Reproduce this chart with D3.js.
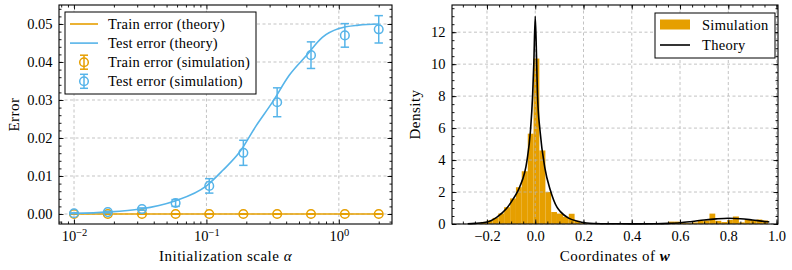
<!DOCTYPE html>
<html>
<head>
<meta charset="utf-8">
<script src="https://cdn.jsdelivr.net/npm/d3@7"></script>
<style>
  body { margin: 0; background: #fff; }
  svg text { font-family: "Liberation Serif", "Times New Roman", serif; font-size: 14.5px; fill: #000; }
  svg text.axlab { font-size: 15px; letter-spacing: 0.5px; }
</style>
</head>
<body>
<svg id="chart" width="792" height="270"></svg>
<script>
// ---------- left panel: error vs initialization scale ----------
const alphaSim = [0.01, 0.018, 0.0326, 0.0585, 0.105, 0.19, 0.342, 0.616, 1.11, 2.0];
const testSimMean = [0.0002, 0.0005, 0.0013, 0.0029, 0.0074, 0.0161, 0.0294, 0.0418, 0.0470, 0.0486];
const testSimErr = [0.0001, 0.0002, 0.0003, 0.0009, 0.0019, 0.0033, 0.0038, 0.0035, 0.0031, 0.0036];
const trainSimMean = [0, 0, 0, 0, 0, 0, 0, 0, 0, 0];
const trainSimErr = [0, 0, 0, 0, 0, 0, 0, 0, 0, 0];

const alphaTheory = [0.01, 0.0178, 0.0316, 0.0562, 0.1, 0.133, 0.178, 0.237, 0.316, 0.422, 0.562, 0.75, 1.0, 1.41, 2.0];
const testTheory = [0.0002, 0.0005, 0.0013, 0.0033, 0.0074, 0.0115, 0.0163, 0.0232, 0.0295, 0.0365, 0.0415, 0.0465, 0.0488, 0.0497, 0.0500];
const trainTheory = [0, 0, 0, 0, 0, 0, 0, 0, 0, 0, 0, 0, 0, 0, 0];

const leftYTicks = [0, 0.01, 0.02, 0.03, 0.04, 0.05];
const leftXTicks = [0.01, 0.1, 1];

// ---------- right panel: histogram of coordinates of w ----------
const binEdges = [-0.274, -0.250, -0.226, -0.201, -0.177, -0.153, -0.129, -0.104, -0.080, -0.056,
  -0.031, -0.007, 0.017, 0.042, 0.066, 0.090, 0.115, 0.139, 0.163, 0.187,
  0.212, 0.236, 0.260, 0.285, 0.309, 0.333, 0.358, 0.382, 0.406, 0.430,
  0.455, 0.479, 0.503, 0.528, 0.552, 0.576, 0.601, 0.625, 0.649, 0.673,
  0.698, 0.722, 0.746, 0.771, 0.795, 0.819, 0.844, 0.868, 0.892, 0.917,
  0.941, 0.965];
const binDensity = [0.03, 0.05, 0.13, 0.22, 0.38, 0.66, 1.05, 1.6, 2.3, 3.3,
  5.65, 10.35, 4.6, 2.0, 0.75, 0.65, 0.45, 0.64, 0.2, 0.05,
  0.02, 0, 0.02, 0, 0, 0.02, 0, 0.03, 0.02, 0.02,
  0, 0.02, 0, 0.02, 0.15, 0.15, 0.08, 0.05, 0.1, 0.2,
  0.22, 0.65, 0.2, 0.12, 0.25, 0.47, 0.1, 0.25, 0.25, 0.28,
  0.22];

const wTheory = [-0.28, -0.25, -0.2, -0.16, -0.12, -0.09, -0.065, -0.034, -0.02, -0.011, -0.006, 0,
  0.006, 0.0095, 0.02, 0.04, 0.062, 0.09, 0.103, 0.138, 0.179, 0.213, 0.25, 0.3, 0.4,
  0.5, 0.55, 0.6, 0.65, 0.7, 0.75, 0.8, 0.85, 0.9, 0.95, 0.97];
const densTheory = [0.02, 0.04, 0.12, 0.42, 0.95, 1.6, 2.3, 4.0, 5.8, 8.0, 10.0, 13.0,
  10.0, 8.0, 5.8, 3.5, 2.14, 1.05, 0.79, 0.37, 0.16, 0.06, 0.03, 0.015, 0.01,
  0.02, 0.04, 0.08, 0.16, 0.25, 0.32, 0.36, 0.33, 0.25, 0.16, 0.13];

const rightXTicks = [-0.2, 0, 0.2, 0.4, 0.6, 0.8, 1.0];
const rightYTicks = [0, 2, 4, 6, 8, 10, 12];

const orange = "#E69F00";
const blue = "#56B4E9";

const svg = d3.select("#chart");

// axes boxes (pixels)
const boxL = { x0: 59, x1: 392, y0: 5, y1: 224 };
const boxR = { x0: 452, x1: 778, y0: 5, y1: 224 };

const xL = d3.scaleLog().domain([Math.pow(10, -2.1134), Math.pow(10, 0.4013)]).range([boxL.x0, boxL.x1]);
const yL = d3.scaleLinear().domain([-0.00263, 0.0550]).range([boxL.y1, boxL.y0]);
const xR = d3.scaleLinear().domain([-0.345, 1.006]).range([boxR.x0, boxR.x1]);
const yR = d3.scaleLinear().domain([0, 13.7]).range([boxR.y1, boxR.y0]);

// minor tick positions
function logMinor(scale) {
  const [a, b] = scale.domain();
  let out = [];
  for (let e = -3; e <= 1; e++) {
    for (let m = 2; m <= 9; m++) {
      let v = m * Math.pow(10, e);
      if (v >= a && v <= b) out.push(v);
    }
  }
  return out;
}
function linMinor(scale, step) {
  const [a, b] = scale.domain();
  let out = [];
  for (let v = Math.ceil(a / step) * step; v <= b + 1e-9; v += step) out.push(+v.toFixed(6));
  return out;
}

function drawGrid(box, x, y, xt, yt) {
  const g = svg.append("g")
    .attr("stroke", "#b4b4b4").attr("stroke-width", 0.8).attr("stroke-dasharray", "3,2.5");
  g.selectAll(".gx").data(xt).join("line")
    .attr("x1", d => x(d)).attr("x2", d => x(d)).attr("y1", box.y0).attr("y2", box.y1);
  g.selectAll(".gy").data(yt).join("line")
    .attr("x1", box.x0).attr("x2", box.x1).attr("y1", d => y(d)).attr("y2", d => y(d));
}

function drawFrame(box, x, y, xt, xm, yt, ym, xFmt, yFmt) {
  const g = svg.append("g");
  const noLab = () => "";
  const clean = s => s.select(".domain").remove();
  const sides = [
    [d3.axisBottom, `translate(0,${box.y1})`, x, xt, xm, xFmt],
    [d3.axisTop, `translate(0,${box.y0})`, x, xt, xm, noLab],
    [d3.axisLeft, `translate(${box.x0},0)`, y, yt, ym, yFmt],
    [d3.axisRight, `translate(${box.x1},0)`, y, yt, ym, noLab]
  ];
  let bottom;
  sides.forEach(([ax, tr, sc, major, minor, fmt], i) => {
    g.append("g").attr("transform", tr)
      .call(ax(sc).tickValues(minor).tickSize(-2.5).tickFormat(noLab)).call(clean);
    const gm = g.append("g").attr("transform", tr)
      .call(ax(sc).tickValues(major).tickSize(-4.5).tickPadding(i === 0 ? 7 : 6.5).tickFormat(fmt)).call(clean);
    if (i === 0) bottom = gm;
  });
  g.selectAll(".tick line").attr("stroke-width", 0.9);
  g.append("rect")
    .attr("x", box.x0).attr("y", box.y0)
    .attr("width", box.x1 - box.x0).attr("height", box.y1 - box.y0)
    .attr("fill", "none").attr("stroke", "#000").attr("stroke-width", 1.1);
  return bottom;
}

// ---------- left panel ----------
drawGrid(boxL, xL, yL, leftXTicks, leftYTicks);

const lineL = d3.line().x(d => xL(d[0])).y(d => yL(d[1])).curve(d3.curveMonotoneX);
svg.append("path").attr("d", lineL(d3.zip(alphaTheory, trainTheory)))
  .attr("fill", "none").attr("stroke", orange).attr("stroke-width", 1.6);
svg.append("path").attr("d", lineL(d3.zip(alphaTheory, testTheory)))
  .attr("fill", "none").attr("stroke", blue).attr("stroke-width", 1.6);

function errorbars(xs, ms, es, color) {
  const g = svg.append("g").attr("stroke", color).attr("stroke-width", 1.5).attr("fill", "none");
  const pts = d3.zip(xs, ms, es);
  g.selectAll(".eb").data(pts).join("line")
    .attr("x1", d => xL(d[0])).attr("x2", d => xL(d[0]))
    .attr("y1", d => yL(d[1] - d[2])).attr("y2", d => yL(d[1] + d[2]));
  g.selectAll(".capT").data(pts).join("line")
    .attr("x1", d => xL(d[0]) - 4.2).attr("x2", d => xL(d[0]) + 4.2)
    .attr("y1", d => yL(d[1] + d[2])).attr("y2", d => yL(d[1] + d[2]));
  g.selectAll(".capB").data(pts).join("line")
    .attr("x1", d => xL(d[0]) - 4.2).attr("x2", d => xL(d[0]) + 4.2)
    .attr("y1", d => yL(d[1] - d[2])).attr("y2", d => yL(d[1] - d[2]));
  g.selectAll("circle").data(pts).join("circle")
    .attr("cx", d => xL(d[0])).attr("cy", d => yL(d[1])).attr("r", 4.3);
}
errorbars(alphaSim, trainSimMean, trainSimErr, orange);
errorbars(alphaSim, testSimMean, testSimErr, blue);

const bottomL = drawFrame(boxL, xL, yL, leftXTicks, logMinor(xL), leftYTicks, linMinor(yL, 0.002),
  d => "", d => d3.format(".2f")(d));
// log tick labels as 10^k
bottomL.selectAll(".tick text").each(function(d) {
  const t = d3.select(this);
  const e = Math.round(Math.log10(d));
  t.text(null);
  t.append("tspan").text("10");
  t.append("tspan").attr("dy", "-0.55em").style("font-size", "10.5px")
    .text(e < 0 ? "\u2212" + Math.abs(e) : String(e));
});

svg.append("text").attr("class", "axlab").attr("x", (boxL.x0 + boxL.x1) / 2).attr("y", 261).attr("text-anchor", "middle")
  .text("Initialization scale ").append("tspan").style("font-style", "italic").text("\u03b1");
svg.append("text").attr("class", "axlab").attr("transform", `translate(19,${(boxL.y0 + boxL.y1) / 2}) rotate(-90)`)
  .attr("text-anchor", "middle").text("Error");

// left legend
const legL = svg.append("g");
legL.append("rect").attr("x", 65).attr("y", 12).attr("width", 191).attr("height", 82)
  .attr("fill", "#fff").attr("stroke", "#000").attr("stroke-width", 1);
const legItems = [
  { label: "Train error (theory)", color: orange, kind: "line" },
  { label: "Test error (theory)", color: blue, kind: "line" },
  { label: "Train error (simulation)", color: orange, kind: "err" },
  { label: "Test error (simulation)", color: blue, kind: "err" }
];
legItems.forEach((it, i) => {
  const cy = 24 + i * 19.1;
  const h = legL.append("g").attr("stroke", it.color).attr("stroke-width", 1.5).attr("fill", "none");
  if (it.kind === "line") {
    h.append("line").attr("x1", 70).attr("x2", 98).attr("y1", cy).attr("y2", cy).attr("stroke-width", 1.6);
  } else {
    h.append("line").attr("x1", 84).attr("x2", 84).attr("y1", cy - 7).attr("y2", cy + 7);
    h.append("line").attr("x1", 80).attr("x2", 88).attr("y1", cy - 7).attr("y2", cy - 7);
    h.append("line").attr("x1", 80).attr("x2", 88).attr("y1", cy + 7).attr("y2", cy + 7);
    h.append("circle").attr("cx", 84).attr("cy", cy).attr("r", 4.3);
  }
  legL.append("text").attr("x", 108).attr("y", cy + 5).style("letter-spacing", "0.2px").text(it.label);
});

// ---------- right panel ----------
const bins = d3.range(binDensity.length).map(i => [binEdges[i], binEdges[i + 1], binDensity[i]]);
svg.append("g").selectAll("rect").data(bins).join("rect")
  .attr("x", d => xR(d[0])).attr("width", d => xR(d[1]) - xR(d[0]))
  .attr("y", d => yR(d[2])).attr("height", d => yR(0) - yR(d[2]))
  .attr("fill", orange);

drawGrid(boxR, xR, yR, rightXTicks, rightYTicks);

const lineR = d3.line().x(d => xR(d[0])).y(d => yR(d[1])).curve(d3.curveMonotoneX);
svg.append("path").attr("d", lineR(d3.zip(wTheory, densTheory)))
  .attr("fill", "none").attr("stroke", "#000").attr("stroke-width", 1.6);

drawFrame(boxR, xR, yR, rightXTicks, linMinor(xR, 0.05), rightYTicks, linMinor(yR, 0.5),
  d => d3.format(".1f")(d).replace("-", "\u2212"), d => String(d));

const xlabR = svg.append("text").attr("class", "axlab").attr("x", (boxR.x0 + boxR.x1) / 2).attr("y", 261).attr("text-anchor", "middle")
  .text("Coordinates of ");
xlabR.append("tspan").style("font-style", "italic").style("font-weight", "bold").text("w");
svg.append("text").attr("class", "axlab").attr("transform", `translate(420,${(boxR.y0 + boxR.y1) / 2}) rotate(-90)`)
  .attr("text-anchor", "middle").text("Density");

// right legend
const legR = svg.append("g");
legR.append("rect").attr("x", 655).attr("y", 13).attr("width", 120).attr("height", 45)
  .attr("fill", "#fff").attr("stroke", "#000").attr("stroke-width", 1);
legR.append("rect").attr("x", 660).attr("y", 19.5).attr("width", 30).attr("height", 10).attr("fill", orange);
legR.append("text").attr("x", 702).attr("y", 29.5).style("letter-spacing", "0.3px").text("Simulation");
legR.append("line").attr("x1", 660).attr("x2", 690).attr("y1", 45).attr("y2", 45)
  .attr("stroke", "#000").attr("stroke-width", 1.6);
legR.append("text").attr("x", 702).attr("y", 50).style("letter-spacing", "0.3px").text("Theory");
</script>
</body>
</html>
